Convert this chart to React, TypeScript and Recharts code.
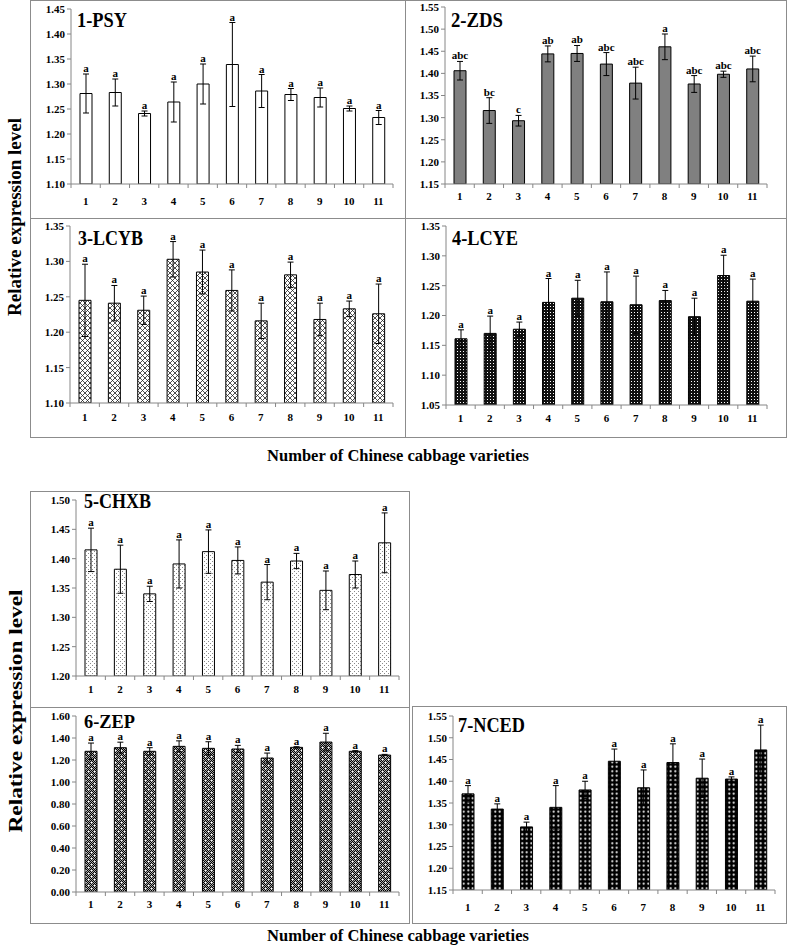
import React from "react";
import { BarChart, Bar, XAxis, YAxis, ErrorBar, LabelList } from "recharts";

const FONT = '"Liberation Serif", "Times New Roman", Times, serif';
const AXIS = "#868686";
const BORDER = "#8c8c8c";

// categories
const varieties = ["1", "2", "3", "4", "5", "6", "7", "8", "9", "10", "11"];

// 1-PSY
const psyValues = [1.281, 1.283, 1.241, 1.264, 1.3, 1.339, 1.286, 1.279, 1.273, 1.251, 1.233];
const psyErrors = [0.039, 0.027, 0.005, 0.04, 0.04, 0.084, 0.033, 0.012, 0.019, 0.005, 0.014];
const psyLetters = ["a", "a", "a", "a", "a", "a", "a", "a", "a", "a", "a"];
const psyTicks = [1.1, 1.15, 1.2, 1.25, 1.3, 1.35, 1.4, 1.45];

// 2-ZDS
const zdsValues = [1.406, 1.316, 1.293, 1.444, 1.445, 1.421, 1.378, 1.46, 1.376, 1.398, 1.41];
const zdsErrors = [0.021, 0.029, 0.012, 0.018, 0.018, 0.026, 0.036, 0.029, 0.019, 0.007, 0.029];
const zdsLetters = ["abc", "bc", "c", "ab", "ab", "abc", "abc", "a", "abc", "abc", "abc"];
const zdsTicks = [1.15, 1.2, 1.25, 1.3, 1.35, 1.4, 1.45, 1.5, 1.55];

// 3-LCYB
const lcybValues = [1.245, 1.241, 1.231, 1.303, 1.285, 1.259, 1.216, 1.281, 1.218, 1.233, 1.226];
const lcybErrors = [0.051, 0.025, 0.02, 0.025, 0.031, 0.029, 0.025, 0.018, 0.023, 0.011, 0.042];
const lcybLetters = ["a", "a", "a", "a", "a", "a", "a", "a", "a", "a", "a"];
const lcybTicks = [1.1, 1.15, 1.2, 1.25, 1.3, 1.35];

// 4-LCYE
const lcyeValues = [1.161, 1.17, 1.177, 1.222, 1.229, 1.223, 1.218, 1.225, 1.198, 1.267, 1.224];
const lcyeErrors = [0.015, 0.029, 0.012, 0.04, 0.03, 0.05, 0.048, 0.017, 0.031, 0.034, 0.037];
const lcyeLetters = ["a", "a", "a", "a", "a", "a", "a", "a", "a", "a", "a"];
const lcyeTicks = [1.05, 1.1, 1.15, 1.2, 1.25, 1.3, 1.35];

// 5-CHXB
const chxbValues = [1.415, 1.382, 1.34, 1.391, 1.412, 1.397, 1.36, 1.396, 1.346, 1.373, 1.427];
const chxbErrors = [0.037, 0.041, 0.013, 0.041, 0.037, 0.023, 0.03, 0.013, 0.033, 0.023, 0.051];
const chxbLetters = ["a", "a", "a", "a", "a", "a", "a", "a", "a", "a", "a"];
const chxbTicks = [1.2, 1.25, 1.3, 1.35, 1.4, 1.45, 1.5];

// 6-ZEP
const zepValues = [1.279, 1.312, 1.279, 1.324, 1.306, 1.3, 1.218, 1.315, 1.363, 1.279, 1.245];
const zepErrors = [0.075, 0.05, 0.033, 0.05, 0.06, 0.033, 0.045, 0.006, 0.08, 0.006, 0.006];
const zepLetters = ["a", "a", "a", "a", "a", "a", "a", "a", "a", "a", "a"];
const zepTicks = [0, 0.2, 0.4, 0.6, 0.8, 1.0, 1.2, 1.4, 1.6];

// 7-NCED
const ncedValues = [1.371, 1.336, 1.295, 1.34, 1.38, 1.446, 1.385, 1.443, 1.407, 1.405, 1.472];
const ncedErrors = [0.019, 0.012, 0.011, 0.05, 0.02, 0.028, 0.041, 0.043, 0.044, 0.005, 0.057];
const ncedLetters = ["a", "a", "a", "a", "a", "a", "a", "a", "a", "a", "a"];
const ncedTicks = [1.15, 1.2, 1.25, 1.3, 1.35, 1.4, 1.45, 1.5, 1.55];

type Panel = {
  title: string;
  values: number[];
  errors: number[];
  letters: string[];
  ticks: number[];
  fill: string;
  box: { x: number; y: number; w: number; h: number };
  plot: { l: number; r: number; t: number; b: number };
  labelGap: number;
  titleAt: [number, number, number, number];
};

const panels: Panel[] = [
  {
    title: "1-PSY", values: psyValues, errors: psyErrors, letters: psyLetters, ticks: psyTicks, fill: "#ffffff",
    box: { x: 30, y: 0, w: 376, h: 219 }, plot: { l: 71, r: 393, t: 9, b: 184 }, labelGap: 13, titleAt: [77, 27, 50, 20],
  },
  {
    title: "2-ZDS", values: zdsValues, errors: zdsErrors, letters: zdsLetters, ticks: zdsTicks, fill: "#808080",
    box: { x: 405, y: 0, w: 382, h: 219 }, plot: { l: 445, r: 767, t: 7, b: 184 }, labelGap: 8, titleAt: [451, 27, 52, 20],
  },
  {
    title: "3-LCYB", values: lcybValues, errors: lcybErrors, letters: lcybLetters, ticks: lcybTicks, fill: "url(#pCross)",
    box: { x: 30, y: 218, w: 376, h: 220 }, plot: { l: 70, r: 393, t: 226, b: 403 }, labelGap: 10, titleAt: [78, 245, 65, 20],
  },
  {
    title: "4-LCYE", values: lcyeValues, errors: lcyeErrors, letters: lcyeLetters, ticks: lcyeTicks, fill: "url(#pSmallDots)",
    box: { x: 405, y: 218, w: 382, h: 220 }, plot: { l: 446, r: 767, t: 226, b: 405 }, labelGap: 9, titleAt: [452, 245, 66, 20],
  },
  {
    title: "5-CHXB", values: chxbValues, errors: chxbErrors, letters: chxbLetters, ticks: chxbTicks, fill: "url(#pLight)",
    box: { x: 30, y: 491, w: 380, h: 217 }, plot: { l: 76, r: 399, t: 500, b: 676 }, labelGap: 9, titleAt: [84, 508, 67, 20],
  },
  {
    title: "6-ZEP", values: zepValues, errors: zepErrors, letters: zepLetters, ticks: zepTicks, fill: "url(#pZep)",
    box: { x: 30, y: 707, w: 380, h: 217 }, plot: { l: 76, r: 399, t: 716, b: 892 }, labelGap: 8, titleAt: [84, 728, 51, 19],
  },
  {
    title: "7-NCED", values: ncedValues, errors: ncedErrors, letters: ncedLetters, ticks: ncedTicks, fill: "url(#pBig)",
    box: { x: 412, y: 706, w: 375, h: 218 }, plot: { l: 453, r: 775, t: 716, b: 890 }, labelGap: 13, titleAt: [458, 732, 67, 20],
  },
];

function Patterns() {
  return (
    <svg width={0} height={0} style={{ position: "absolute", left: 0, top: 0 }}>
      <defs>
        <pattern id="pCross" width={5} height={5} patternUnits="userSpaceOnUse">
          <rect width={5} height={5} fill="#fff" />
          <path d="M0,0 L5,5 M5,0 L0,5" stroke="#222" strokeWidth={0.8} />
        </pattern>
        <pattern id="pSmallDots" width={3} height={3} patternUnits="userSpaceOnUse">
          <rect width={3} height={3} fill="#111" />
          <rect x={1} y={1} width={1} height={1} fill="#fff" />
        </pattern>
        <pattern id="pLight" width={4} height={4} patternUnits="userSpaceOnUse">
          <rect width={4} height={4} fill="#fff" />
          <rect x={0} y={0} width={1} height={1} fill="#8a8a8a" />
          <rect x={2} y={2} width={1} height={1} fill="#8a8a8a" />
        </pattern>
        <pattern id="pChecker" width={2} height={2} patternUnits="userSpaceOnUse">
          <rect width={2} height={2} fill="#fff" />
          <rect x={0} y={0} width={1} height={1} fill="#000" />
          <rect x={1} y={1} width={1} height={1} fill="#000" />
        </pattern>
        <pattern id="pZep" width={6} height={6} patternUnits="userSpaceOnUse">
          <rect width={6} height={6} fill="url(#pChecker)" />
          <rect width={6} height={6} fill="#000" opacity={0.35} />
          <rect x={1} y={1} width={1.4} height={1.4} fill="#fff" />
          <rect x={4} y={4} width={1.4} height={1.4} fill="#fff" />
        </pattern>
        <pattern id="pBig" width={4.5} height={4.5} patternUnits="userSpaceOnUse">
          <rect width={4.5} height={4.5} fill="#000" />
          <circle cx={2.25} cy={2.25} r={1.05} fill="#fff" />
        </pattern>
      </defs>
    </svg>
  );
}

const makeXTick = (band: number, gap: number) => (props: any) => {
  const { x, y, payload, index } = props;
  const axisY = y - gap;
  return (
    <g>
      {index === 0 && (
        <line x1={x - band / 2} x2={x - band / 2} y1={axisY} y2={axisY + 4} stroke={AXIS} />
      )}
      <line x1={x + band / 2} x2={x + band / 2} y1={axisY} y2={axisY + 4} stroke={AXIS} />
      <text x={x} y={y} dy="0.71em" textAnchor="middle" fontFamily={FONT} fontWeight="bold" fontSize={11} fill="#000">
        {payload.value}
      </text>
    </g>
  );
};

const makeLetter = (values: number[], errors: number[], letters: string[], min: number) => (props: any) => {
  const vb = props.viewBox && typeof props.viewBox.x === "number" ? props.viewBox : props;
  const i = props.index;
  if (i == null || values[i] == null) return null;
  const x = Number(vb.x);
  const y = Number(vb.y);
  const w = Number(vb.width);
  const h = Number(vb.height);
  const top = Math.min(y, y + h);
  const perUnit = Math.abs(h) / (values[i] - min);
  const errTop = top - errors[i] * perUnit;
  return (
    <text x={x + w / 2} y={errTop - 2} textAnchor="middle" fontFamily={FONT} fontWeight="bold" fontSize={11} fill="#000">
      {letters[i]}
    </text>
  );
};

function PanelChart({ p }: { p: Panel }) {
  const data = varieties.map((name, i) => ({ name, value: p.values[i], err: p.errors[i] }));
  const min = p.ticks[0];
  const max = p.ticks[p.ticks.length - 1];
  const band = (p.plot.r - p.plot.l) / varieties.length;
  const bottomPad = 2;
  const xAxisH = p.box.y + p.box.h - p.plot.b - bottomPad;
  return (
    <div style={{ position: "absolute", left: p.box.x, top: p.box.y }}>
      <BarChart
        width={p.box.w}
        height={p.box.h}
        data={data}
        margin={{ top: p.plot.t - p.box.y, right: p.box.x + p.box.w - p.plot.r, bottom: bottomPad, left: 0 }}
      >
        <XAxis
          dataKey="name"
          type="category"
          height={xAxisH}
          axisLine={{ stroke: AXIS }}
          tickLine={false}
          tickSize={0}
          tickMargin={p.labelGap}
          interval={0}
          tick={makeXTick(band, p.labelGap)}
        />
        <YAxis
          type="number"
          domain={[min, max]}
          ticks={p.ticks}
          allowDataOverflow
          width={p.plot.l - p.box.x}
          axisLine={{ stroke: AXIS }}
          tickLine={{ stroke: AXIS }}
          tickSize={4}
          tickMargin={2}
          interval={0}
          tickFormatter={(v: number) => v.toFixed(2)}
          tick={{ fontFamily: FONT, fontSize: 11, fontWeight: "bold", fill: "#000" }}
        />
        <Bar dataKey="value" fill={p.fill} stroke="#000" strokeWidth={1} barSize={12} isAnimationActive={false}>
          <ErrorBar dataKey="err" width={3} stroke="#000" strokeWidth={1} direction="y" />
          <LabelList dataKey="value" content={makeLetter(p.values, p.errors, p.letters, min)} />
        </Bar>
      </BarChart>
    </div>
  );
}

export default function App() {
  return (
    <div style={{ position: "absolute", left: 0, top: 0, width: 787, height: 945, background: "#fff", overflow: "hidden" }}>
      <Patterns />
      {panels.map((p) => (
        <div
          key={"box-" + p.title}
          style={{
            position: "absolute",
            left: p.box.x,
            top: p.box.y,
            width: p.box.w,
            height: p.box.h,
            border: `1px solid ${BORDER}`,
            boxSizing: "border-box",
          }}
        />
      ))}
      {panels.map((p) => (
        <PanelChart key={p.title} p={p} />
      ))}
      <svg width={787} height={945} style={{ position: "absolute", left: 0, top: 0, pointerEvents: "none" }}>
        {panels.map((p) => (
          <text
            key={"t-" + p.title}
            x={p.titleAt[0]}
            y={p.titleAt[1]}
            textLength={p.titleAt[2]}
            lengthAdjust="spacingAndGlyphs"
            fontFamily={FONT}
            fontWeight="bold"
            fontSize={p.titleAt[3]}
            fill="#000"
          >
            {p.title}
          </text>
        ))}
        <text
          transform="translate(21,217) rotate(-90)"
          textAnchor="middle"
          textLength={198}
          lengthAdjust="spacingAndGlyphs"
          fontFamily={FONT}
          fontWeight="bold"
          fontSize={18}
          fill="#000"
        >
          Relative expression level
        </text>
        <text
          transform="translate(22,711) rotate(-90)"
          textAnchor="middle"
          textLength={243}
          lengthAdjust="spacingAndGlyphs"
          fontFamily={FONT}
          fontWeight="bold"
          fontSize={19}
          fill="#000"
        >
          Relative expression level
        </text>
        <text x={398} y={461} textAnchor="middle" fontFamily={FONT} fontWeight="bold" fontSize={16.5} fill="#000">
          Number of Chinese cabbage varieties
        </text>
        <text x={398} y={941} textAnchor="middle" fontFamily={FONT} fontWeight="bold" fontSize={16.5} fill="#000">
          Number of Chinese cabbage varieties
        </text>
      </svg>
    </div>
  );
}
